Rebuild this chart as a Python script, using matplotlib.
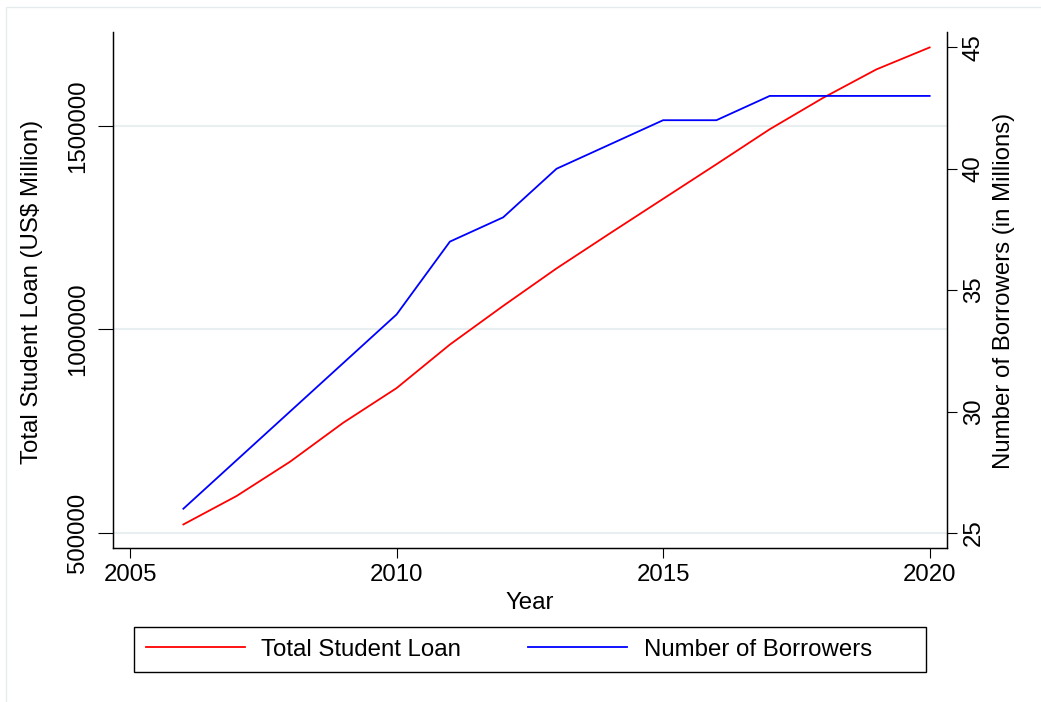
import matplotlib.pyplot as plt
from matplotlib.patches import Rectangle

plt.rcParams['font.family'] = ['Liberation Sans', 'DejaVu Sans']

# data
years = [2006, 2007, 2008, 2009, 2010, 2011, 2012, 2013,
         2014, 2015, 2016, 2017, 2018, 2019, 2020]
loan = [521000, 591000, 675000, 771000, 856000, 963000, 1058000, 1150000,
        1236000, 1321000, 1406000, 1492000, 1569000, 1639000, 1693000]
borrowers = [26, 28, 30, 32, 34, 37, 38, 40, 41, 42, 42, 43, 43, 43, 43]

x_ticks = [2005, 2010, 2015, 2020]
left_ticks = [500000, 1000000, 1500000]
right_ticks = [25, 30, 35, 40, 45]

W, H = 1041, 702
fs = 17.3
grid_col = '#e8eff1'

fig = plt.figure(figsize=(W / 100, H / 100), dpi=100)
ax = fig.add_axes([113 / W, 1 - 548.3 / H, (946.7 - 113) / W, (548.3 - 32.3) / H])
ax2 = ax.twinx()

# outer graph region frame
fig.patches.append(Rectangle((5.5 / W, -0.1), 1.2, 1.1 - 7 / H, transform=fig.transFigure,
                             fill=False, edgecolor='#e6ecee', lw=1.0))

l1, = ax.plot(years, loan, color='#ff0000', lw=1.3, label='Total Student Loan')
l2, = ax2.plot(years, borrowers, color='#0000ff', lw=1.3, label='Number of Borrowers')

ax.set_xlim(2004.68, 2020.32)
ax.set_ylim(462400, 1730200)
ax2.set_ylim(24.37, 45.62)

ax.set_xticks(x_ticks)
ax.set_yticks(left_ticks)
ax2.set_yticks(right_ticks)
ax.set_yticklabels([str(v) for v in left_ticks])

for v in left_ticks:
    ax.axhline(v, color=grid_col, lw=1.5, zorder=0)

for a in (ax, ax2):
    a.spines['top'].set_visible(False)
    for s in a.spines.values():
        s.set_linewidth(0.9)
        s.set_color('black')

ax.tick_params(axis='x', length=7.5, width=0.8, labelsize=fs, pad=4)
ax.tick_params(axis='y', length=11, width=0.8, labelsize=fs, pad=6)
ax2.tick_params(axis='y', length=7.5, width=0.8, labelsize=fs, pad=4)
for lab in ax.get_yticklabels():
    lab.set_rotation(90)
    lab.set_va('center')
for lab in ax2.get_yticklabels():
    lab.set_rotation(90)
    lab.set_va('center')

fig.text(31.7 / W, 1 - 291.5 / H, 'Total Student Loan (US$ Million)', rotation=90,
         ha='center', va='center', fontsize=fs)
fig.text(1003.7 / W, 1 - 290.5 / H, 'Number of Borrowers (in Millions)', rotation=90,
         ha='center', va='center', fontsize=fs)
fig.text(530 / W, 1 - 609 / H, 'Year', ha='center', va='baseline', fontsize=fs)

# legend (frame drawn separately to match the wide Stata box)
fig.legend([l1, l2], [l1.get_label(), l2.get_label()], loc='center left',
           bbox_to_anchor=(146 / W, 1 - 649.5 / H), ncol=2, fontsize=fs,
           frameon=False, handlelength=4.1, handletextpad=0.7, columnspacing=2.8,
           borderpad=0, borderaxespad=0)
fig.patches.append(Rectangle((134.3 / W, 1 - 672.3 / H), (925.7 - 134.3) / W, 45.6 / H,
                             transform=fig.transFigure, fill=False,
                             edgecolor='black', lw=1.0))

fig.savefig('out.png', dpi=100)
